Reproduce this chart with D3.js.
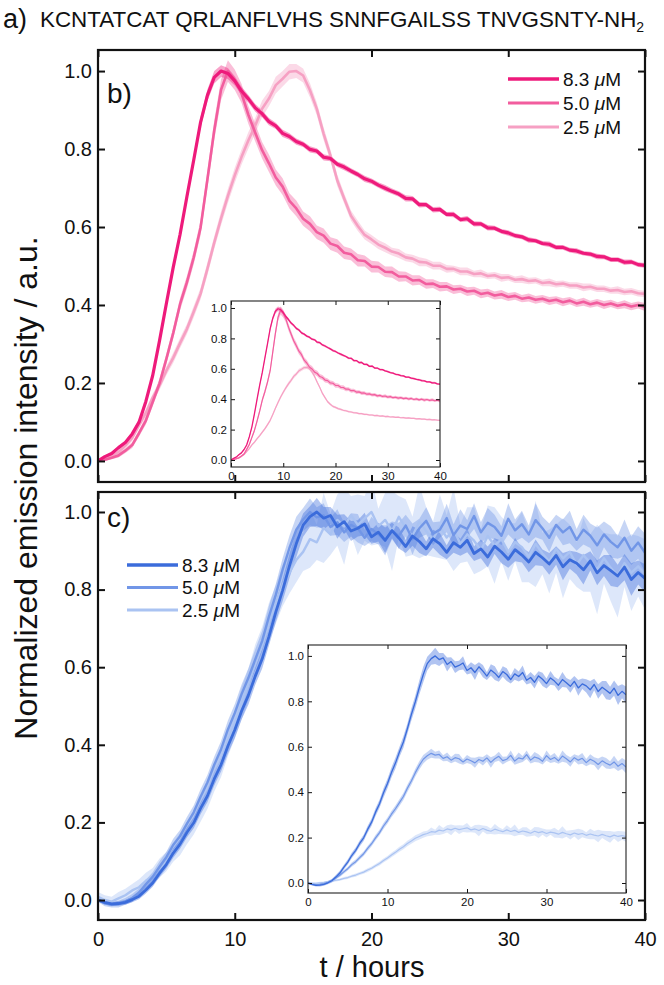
<!DOCTYPE html>
<html lang="en">
<head>
<meta charset="UTF-8">
<title>Normalized emission kinetics</title>
<style>
  body { margin: 0; background: #fff; }
  svg { display: block; font-family: "Liberation Sans", Arial, Helvetica, sans-serif; }
  .frame { fill: none; stroke: #111; stroke-width: 2.2; }
  .inset-frame { fill: none; stroke: #222; stroke-width: 1.1; }
  .axis path { display: none; }
  .axis line { stroke: #111; }
  .axis text { fill: #111; }
</style>
</head>
<body>
<svg id="fig" width="664" height="985"></svg>

<script src="https://cdn.jsdelivr.net/npm/d3@7/dist/d3.min.js"></script>
<script>
// time grid of the recordings, hours (every 0.5 h)
const hours = d3.range(0, 40.25, 0.5);

const concLabels = ["8.3", "5.0", "2.5"];
const xTicks = [0, 10, 20, 30, 40];
const yTicks = [0, 0.2, 0.4, 0.6, 0.8, 1.0];

// raw emission (inset scale), panel b
const pink83 = [
  0.000, 0.011, 0.019, 0.034, 0.047, 0.069, 0.099, 0.152, 0.218, 0.307,
  0.402, 0.494, 0.578, 0.674, 0.768, 0.864, 0.933, 0.979, 0.995, 0.989,
  0.970, 0.944, 0.924, 0.901, 0.886, 0.866, 0.855, 0.836, 0.828, 0.815,
  0.808, 0.795, 0.791, 0.775, 0.772, 0.757, 0.750, 0.740, 0.731, 0.720,
  0.714, 0.704, 0.696, 0.688, 0.681, 0.670, 0.669, 0.654, 0.654, 0.641,
  0.642, 0.629, 0.629, 0.616, 0.618, 0.605, 0.605, 0.595, 0.594, 0.586,
  0.582, 0.575, 0.572, 0.564, 0.562, 0.555, 0.553, 0.545, 0.545, 0.538,
  0.536, 0.530, 0.528, 0.522, 0.521, 0.514, 0.514, 0.507, 0.508, 0.501,
  0.499
];
const pink50 = [
  0.000, 0.003, 0.008, 0.014, 0.026, 0.040, 0.070, 0.102, 0.149, 0.196,
  0.258, 0.323, 0.396, 0.451, 0.514, 0.589, 0.711, 0.835, 0.938, 0.985,
  0.963, 0.928, 0.874, 0.829, 0.785, 0.752, 0.716, 0.693, 0.657, 0.638,
  0.612, 0.599, 0.578, 0.569, 0.549, 0.543, 0.526, 0.522, 0.507, 0.505,
  0.491, 0.490, 0.478, 0.477, 0.466, 0.466, 0.456, 0.457, 0.447, 0.448,
  0.440, 0.441, 0.433, 0.435, 0.428, 0.430, 0.422, 0.425, 0.418, 0.421,
  0.414, 0.417, 0.410, 0.413, 0.407, 0.410, 0.404, 0.407, 0.401, 0.405,
  0.398, 0.402, 0.396, 0.400, 0.394, 0.398, 0.392, 0.396, 0.390, 0.394,
  0.389
];
const pink25 = [
  0.000, 0.003, 0.008, 0.014, 0.024, 0.036, 0.056, 0.075, 0.099, 0.118,
  0.141, 0.161, 0.184, 0.206, 0.233, 0.261, 0.300, 0.341, 0.379, 0.414,
  0.446, 0.475, 0.501, 0.524, 0.550, 0.566, 0.587, 0.597, 0.608, 0.609,
  0.602, 0.579, 0.550, 0.511, 0.477, 0.438, 0.410, 0.383, 0.367, 0.353,
  0.346, 0.338, 0.333, 0.327, 0.324, 0.318, 0.316, 0.311, 0.310, 0.305,
  0.305, 0.300, 0.300, 0.296, 0.296, 0.292, 0.293, 0.289, 0.290, 0.286,
  0.287, 0.283, 0.284, 0.281, 0.282, 0.278, 0.279, 0.276, 0.277, 0.274,
  0.274, 0.271, 0.272, 0.269, 0.269, 0.266, 0.267, 0.264, 0.265, 0.262,
  0.261
];
// replicate spread (half width of the shaded band), panel b
const pinkSd83 = [
  0.003, 0.003, 0.004, 0.004, 0.005, 0.005, 0.006, 0.007, 0.008, 0.009,
  0.010, 0.011, 0.011, 0.012, 0.013, 0.014, 0.015, 0.016, 0.015, 0.014,
  0.012, 0.011, 0.010, 0.010, 0.009, 0.009, 0.008, 0.009, 0.008, 0.008,
  0.007, 0.008, 0.007, 0.008, 0.007, 0.007, 0.008, 0.007, 0.007, 0.008,
  0.007, 0.007, 0.008, 0.007, 0.007, 0.008, 0.007, 0.007, 0.006, 0.007,
  0.007, 0.006, 0.007, 0.006, 0.007, 0.007, 0.006, 0.007, 0.006, 0.006,
  0.007, 0.006, 0.006, 0.007, 0.006, 0.006, 0.007, 0.006, 0.006, 0.006,
  0.007, 0.006, 0.006, 0.007, 0.006, 0.006, 0.006, 0.007, 0.006, 0.006,
  0.006
];
const pinkSd50 = [
  0.003, 0.003, 0.004, 0.005, 0.006, 0.007, 0.008, 0.010, 0.011, 0.012,
  0.013, 0.014, 0.015, 0.016, 0.017, 0.019, 0.022, 0.025, 0.026, 0.027,
  0.026, 0.024, 0.023, 0.022, 0.021, 0.022, 0.020, 0.021, 0.019, 0.020,
  0.018, 0.019, 0.017, 0.018, 0.016, 0.017, 0.016, 0.015, 0.016, 0.014,
  0.015, 0.014, 0.013, 0.014, 0.013, 0.012, 0.013, 0.012, 0.012, 0.011,
  0.012, 0.011, 0.011, 0.010, 0.011, 0.010, 0.011, 0.010, 0.010, 0.011,
  0.010, 0.010, 0.009, 0.010, 0.010, 0.009, 0.010, 0.009, 0.010, 0.009,
  0.009, 0.010, 0.009, 0.009, 0.010, 0.009, 0.009, 0.010, 0.009, 0.009,
  0.010
];
const pinkSd25 = [
  0.002, 0.003, 0.003, 0.004, 0.004, 0.005, 0.005, 0.006, 0.006, 0.007,
  0.007, 0.008, 0.008, 0.008, 0.009, 0.009, 0.010, 0.010, 0.011, 0.011,
  0.012, 0.012, 0.013, 0.012, 0.013, 0.012, 0.013, 0.012, 0.012, 0.011,
  0.011, 0.011, 0.010, 0.010, 0.009, 0.009, 0.008, 0.008, 0.008, 0.007,
  0.007, 0.007, 0.007, 0.006, 0.007, 0.006, 0.006, 0.007, 0.006, 0.006,
  0.006, 0.006, 0.005, 0.006, 0.006, 0.005, 0.006, 0.005, 0.005, 0.006,
  0.005, 0.005, 0.006, 0.005, 0.005, 0.005, 0.006, 0.005, 0.005, 0.005,
  0.005, 0.006, 0.005, 0.005, 0.005, 0.005, 0.006, 0.005, 0.005, 0.005,
  0.005
];

// raw emission (inset scale), panel c
const blue83 = [
  0.000, -0.006, -0.010, -0.009, -0.006, 0.001, 0.010, 0.026, 0.044, 0.069,
  0.092, 0.121, 0.144, 0.174, 0.199, 0.236, 0.268, 0.312, 0.349, 0.397,
  0.438, 0.487, 0.528, 0.577, 0.621, 0.679, 0.742, 0.798, 0.861, 0.918,
  0.966, 0.988, 1.000, 0.984, 0.991, 0.962, 0.975, 0.951, 0.958, 0.969,
  0.936, 0.948, 0.927, 0.952, 0.933, 0.911, 0.938, 0.924, 0.905, 0.931,
  0.918, 0.896, 0.921, 0.909, 0.927, 0.893, 0.905, 0.884, 0.912, 0.897,
  0.878, 0.903, 0.889, 0.871, 0.896, 0.882, 0.866, 0.888, 0.859, 0.877,
  0.868, 0.851, 0.874, 0.843, 0.862, 0.849, 0.835, 0.858, 0.826, 0.844,
  0.829
];
const blue50 = [
  0.000, -0.005, -0.007, -0.006, -0.002, 0.003, 0.011, 0.023, 0.034, 0.049,
  0.063, 0.081, 0.094, 0.112, 0.129, 0.152, 0.173, 0.199, 0.222, 0.251,
  0.275, 0.303, 0.327, 0.354, 0.381, 0.417, 0.449, 0.486, 0.518, 0.545,
  0.560, 0.571, 0.563, 0.566, 0.549, 0.556, 0.541, 0.552, 0.547, 0.533,
  0.546, 0.538, 0.529, 0.544, 0.536, 0.551, 0.531, 0.547, 0.558, 0.539,
  0.545, 0.562, 0.537, 0.551, 0.546, 0.565, 0.541, 0.555, 0.549, 0.536,
  0.561, 0.544, 0.553, 0.538, 0.559, 0.547, 0.533, 0.552, 0.541, 0.549,
  0.530, 0.545, 0.536, 0.522, 0.538, 0.527, 0.519, 0.533, 0.514, 0.526,
  0.511
];
const blue25 = [
  0.002, 0.000, -0.001, 0.001, 0.003, 0.006, 0.008, 0.012, 0.015, 0.020,
  0.024, 0.030, 0.035, 0.042, 0.048, 0.057, 0.065, 0.076, 0.086, 0.099,
  0.110, 0.123, 0.135, 0.149, 0.160, 0.174, 0.185, 0.197, 0.205, 0.213,
  0.218, 0.226, 0.224, 0.233, 0.229, 0.238, 0.234, 0.241, 0.235, 0.239,
  0.243, 0.234, 0.238, 0.231, 0.240, 0.233, 0.228, 0.237, 0.231, 0.226,
  0.234, 0.227, 0.232, 0.223, 0.229, 0.225, 0.219, 0.228, 0.222, 0.226,
  0.218, 0.224, 0.221, 0.215, 0.223, 0.217, 0.212, 0.220, 0.214, 0.218,
  0.210, 0.216, 0.211, 0.207, 0.214, 0.208, 0.203, 0.211, 0.205, 0.209,
  0.204
];
const blueSd83 = [
  0.004, 0.005, 0.005, 0.006, 0.006, 0.007, 0.008, 0.009, 0.010, 0.010,
  0.011, 0.012, 0.012, 0.013, 0.014, 0.015, 0.016, 0.017, 0.018, 0.020,
  0.021, 0.022, 0.024, 0.022, 0.025, 0.023, 0.026, 0.028, 0.031, 0.034,
  0.030, 0.027, 0.036, 0.029, 0.022, 0.031, 0.019, 0.026, 0.021, 0.029,
  0.018, 0.024, 0.033, 0.020, 0.027, 0.017, 0.025, 0.030, 0.019, 0.023,
  0.028, 0.018, 0.026, 0.022, 0.031, 0.019, 0.024, 0.027, 0.020, 0.029,
  0.022, 0.030, 0.019, 0.026, 0.033, 0.021, 0.028, 0.024, 0.035, 0.023,
  0.029, 0.038, 0.025, 0.032, 0.027, 0.040, 0.029, 0.034, 0.042, 0.031,
  0.036
];
const blueSd50 = [
  0.003, 0.004, 0.004, 0.005, 0.005, 0.006, 0.006, 0.007, 0.007, 0.008,
  0.008, 0.009, 0.009, 0.010, 0.010, 0.011, 0.011, 0.012, 0.012, 0.013,
  0.013, 0.014, 0.014, 0.015, 0.015, 0.016, 0.016, 0.017, 0.018, 0.019,
  0.017, 0.020, 0.015, 0.018, 0.013, 0.019, 0.014, 0.017, 0.021, 0.012,
  0.018, 0.015, 0.022, 0.013, 0.019, 0.016, 0.023, 0.014, 0.020, 0.017,
  0.012, 0.021, 0.016, 0.024, 0.013, 0.019, 0.015, 0.022, 0.018, 0.014,
  0.023, 0.016, 0.020, 0.013, 0.025, 0.017, 0.021, 0.015, 0.019, 0.024,
  0.016, 0.022, 0.018, 0.026, 0.019, 0.023, 0.017, 0.027, 0.021, 0.024,
  0.028
];
const blueSd25 = [
  0.003, 0.003, 0.003, 0.004, 0.004, 0.004, 0.005, 0.005, 0.005, 0.006,
  0.006, 0.006, 0.007, 0.007, 0.007, 0.008, 0.008, 0.008, 0.009, 0.009,
  0.009, 0.010, 0.010, 0.011, 0.011, 0.012, 0.012, 0.013, 0.013, 0.014,
  0.012, 0.018, 0.011, 0.022, 0.013, 0.016, 0.024, 0.012, 0.019, 0.014,
  0.021, 0.011, 0.017, 0.025, 0.013, 0.018, 0.012, 0.023, 0.015, 0.011,
  0.020, 0.014, 0.026, 0.012, 0.017, 0.021, 0.013, 0.019, 0.024, 0.014,
  0.018, 0.012, 0.022, 0.016, 0.027, 0.013, 0.020, 0.015, 0.025, 0.017,
  0.014, 0.023, 0.018, 0.028, 0.016, 0.021, 0.026, 0.015, 0.024, 0.019,
  0.022
];

const pinkColors = ["#ee1a7b", "#f25d9e", "#f6a0c3"];
const blueColors = ["#3b6cdb", "#7196e7", "#aac3f2"];

const svg = d3.select('#fig');
const defs = svg.append('defs');
let clipCount = 0;

function drawPlot(box, raws, sds, colors, st) {
  const x = d3.scaleLinear().domain([0, 40]).range([box.left, box.right]);
  const y = d3.scaleLinear().domain(box.yDomain).range([box.bottom, box.top]);
  const g = svg.append('g');
  const w = box.right - box.left, h = box.bottom - box.top;

  if (st.inset) {
    g.append('rect').attr('x', box.left).attr('y', box.top)
      .attr('width', w).attr('height', h).attr('fill', '#fff');
  }

  const id = 'clip' + (clipCount++);
  defs.append('clipPath').attr('id', id).append('rect')
    .attr('x', box.left).attr('y', box.top).attr('width', w).attr('height', h);
  const pg = g.append('g').attr('clip-path', 'url(#' + id + ')');

  // normalised (main panels) or raw (insets)
  const series = raws.map((arr, i) => {
    const m = st.normalize ? d3.max(arr) : 1;
    return hours.map((t, k) => ({ t: t, v: arr[k] / m, s: sds[i][k] / m }));
  });

  const area = d3.area().x(d => x(d.t)).y0(d => y(d.v - d.s)).y1(d => y(d.v + d.s));
  const line = d3.line().x(d => x(d.t)).y(d => y(d.v));

  [2, 1, 0].forEach(i => {
    pg.append('path').datum(series[i]).attr('d', area)
      .attr('fill', colors[i]).attr('opacity', st.bandOpacity);
  });
  [2, 1, 0].forEach(i => {
    pg.append('path').datum(series[i]).attr('d', line)
      .attr('fill', 'none').attr('stroke', colors[i])
      .attr('stroke-width', st.widths[i])
      .attr('stroke-linejoin', 'round');
  });

  // axes: ticks point inward on all four sides
  const tl = st.tickLen;
  const left = g.append('g').attr('class', 'axis')
    .attr('transform', 'translate(' + box.left + ',0)')
    .call(d3.axisLeft(y).tickValues(yTicks).tickSizeInner(-tl).tickSizeOuter(0)
      .tickPadding(st.yPad).tickFormat(d3.format('.1f')));
  left.attr('font-size', st.tickFont).attr('font-family', null);

  g.append('g').attr('class', 'axis')
    .attr('transform', 'translate(' + box.right + ',0)')
    .call(d3.axisRight(y).tickValues(yTicks).tickSizeInner(-tl).tickSizeOuter(0).tickFormat(''));

  g.append('g').attr('class', 'axis')
    .attr('transform', 'translate(0,' + box.top + ')')
    .call(d3.axisTop(x).tickValues(xTicks).tickSizeInner(-tl).tickSizeOuter(0).tickFormat(''));

  const bottom = g.append('g').attr('class', 'axis')
    .attr('transform', 'translate(0,' + box.bottom + ')')
    .call(d3.axisBottom(x).tickValues(xTicks).tickSizeInner(-tl).tickSizeOuter(0)
      .tickPadding(st.xPad).tickFormat(st.xLabels ? d3.format('d') : ''));
  bottom.attr('font-size', st.tickFont).attr('font-family', null);

  g.selectAll('.axis line').attr('stroke-width', st.tickWidth);

  g.append('rect').attr('class', st.inset ? 'inset-frame' : 'frame')
    .attr('x', box.left).attr('y', box.top).attr('width', w).attr('height', h);
}

const mainStyle = { normalize: true, inset: false, bandOpacity: 0.4, tickLen: 7, tickWidth: 2,
  tickFont: 20, yPad: 6, xPad: 12 };
const insetStyle = { normalize: false, inset: true, bandOpacity: 0.4, tickLen: 4, tickWidth: 1,
  tickFont: 11.5, yPad: 4, xPad: 5, xLabels: true, widths: [1.3, 1.2, 1.2] };

// panel b
drawPlot({ left: 98, right: 645, top: 50, bottom: 482, yDomain: [-0.054, 1.054] },
  [pink83, pink50, pink25], [pinkSd83, pinkSd50, pinkSd25], pinkColors,
  Object.assign({}, mainStyle, { widths: [3.2, 2.6, 2.6], xLabels: false }));
drawPlot({ left: 231, right: 440, top: 301, bottom: 467, yDomain: [-0.046, 1.046] },
  [pink83, pink50, pink25], [pinkSd83, pinkSd50, pinkSd25], pinkColors, insetStyle);

// panel c
drawPlot({ left: 98, right: 645, top: 492, bottom: 920, yDomain: [-0.0515, 1.0515] },
  [blue83, blue50, blue25], [blueSd83, blueSd50, blueSd25], blueColors,
  Object.assign({}, mainStyle, { widths: [2.8, 2.4, 2.4], xLabels: true }));
drawPlot({ left: 308, right: 626, top: 645, bottom: 893, yDomain: [-0.044, 1.048] },
  [blue83, blue50, blue25], [blueSd83, blueSd50, blueSd25], blueColors, insetStyle);

// legends
function legend(x0, y0, gap, colors) {
  const lg = svg.append('g');
  concLabels.forEach((c, i) => {
    const yy = y0 + i * gap;
    lg.append('line').attr('x1', x0).attr('x2', x0 + 51).attr('y1', yy).attr('y2', yy)
      .attr('stroke', colors[i]).attr('stroke-width', i === 0 ? 3.6 : 3);
    const t = lg.append('text').attr('x', x0 + 55).attr('y', yy).attr('dy', '0.36em')
      .attr('font-size', 19).attr('fill', '#111');
    t.append('tspan').text(c + ' ');
    t.append('tspan').attr('font-style', 'italic').text('\u03bc');
    t.append('tspan').text('M');
  });
}
legend(508, 79, 24, pinkColors);
legend(127, 565, 22.5, blueColors);

// panel letters
svg.append('text').attr('x', 107).attr('y', 103).attr('font-size', 28).attr('fill', '#111').text('b)');
svg.append('text').attr('x', 107).attr('y', 527).attr('font-size', 28).attr('fill', '#111').text('c)');

// title line
svg.append('text').attr('x', 3).attr('y', 28).attr('font-size', 27).attr('fill', '#111').text('a)');
const seq = svg.append('text').attr('x', 40).attr('y', 27).attr('font-size', 22.4).attr('fill', '#111');
seq.append('tspan').text('KCNTATCAT QRLANFLVHS SNNFGAILSS TNVGSNTY-NH');
seq.append('tspan').attr('font-size', 14).attr('dy', 5).text('2');

// axis titles
svg.append('text').attr('transform', 'translate(37,488) rotate(-90)')
  .attr('text-anchor', 'middle').attr('font-size', 32).attr('fill', '#111')
  .text('Normalized emission intensity / a.u.');
svg.append('text').attr('x', 372).attr('y', 977).attr('text-anchor', 'middle')
  .attr('font-size', 29).attr('fill', '#111').text('t / hours');
</script>
</body>
</html>
